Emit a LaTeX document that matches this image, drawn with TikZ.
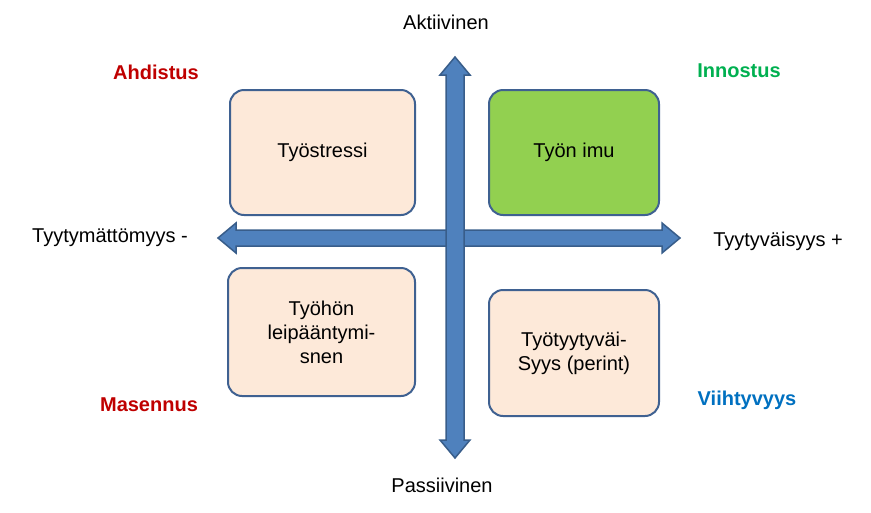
\documentclass[tikz,border=0pt]{standalone}
\usepackage{fontspec}
\setmainfont{Liberation Sans}
\usetikzlibrary{shapes.arrows}
\begin{document}
\begin{tikzpicture}[x=1pt,y=-1pt,
  box/.style={draw=boxline,line width=2pt,rounded corners=14pt,fill=boxfill,align=center,font=\fontsize{20}{24}\selectfont},
  lbl/.style={font=\fontsize{20}{24}\selectfont},
  mood/.style={font=\fontsize{20}{24}\selectfont\bfseries},
  arr/.style={fill=arrfill,draw=arrline,line width=1.5pt}]
\definecolor{boxline}{HTML}{3F6191}
\definecolor{boxfill}{HTML}{FDE9D9}
\definecolor{arrfill}{HTML}{4F81BD}
\definecolor{arrline}{HTML}{385D8A}
\definecolor{green1}{HTML}{92D050}
\useasboundingbox (0,0) rectangle (871,512);
% horizontal arrow
\draw[arr] (218,238) -- (236,223) -- (236,230) -- (662,230) -- (662,223) -- (680,238) -- (662,253) -- (662,246) -- (236,246) -- (236,253) -- cycle;
% vertical arrow
\draw[arr] (455,57) -- (470,75) -- (464,75) -- (464,440) -- (470,440) -- (455,458) -- (440,440) -- (446,440) -- (446,75) -- (440,75) -- cycle;
\node[box,minimum width=185pt,minimum height=125pt] (ts) at (322.5,152.5) {Työstressi};
\node[box,fill=green1,minimum width=170pt,minimum height=125pt] (ti) at (574,152.5) {Työn imu};
\node[box,minimum width=187pt,minimum height=128pt] (tl) at (321.5,332) {Työhön\\leipääntymi-\\snen};
\node[box,minimum width=170pt,minimum height=126pt] (tt) at (574,353) {Työtyytyväi-\\Syys (perint)};
\node[lbl] (a) at (446,22) {Aktiivinen};
\node[lbl] (p) at (442,485) {Passiivinen};
\node[lbl] (tm) at (110,238) {Tyytymättömyys -};
\node[lbl] (tp) at (778,241) {Tyytyväisyys +};
\node[mood,text=red!75!black] (ah) at (156,72) {Ahdistus};
\node[mood,text={rgb,255:red,0;green,176;blue,80}] (in) at (739,71) {Innostus};
\node[mood,text=red!75!black] (ma) at (149,405) {Masennus};
\node[mood,text={rgb,255:red,0;green,112;blue,192}] (vi) at (747,400) {Viihtyvyys};
\end{tikzpicture}
\end{document}
